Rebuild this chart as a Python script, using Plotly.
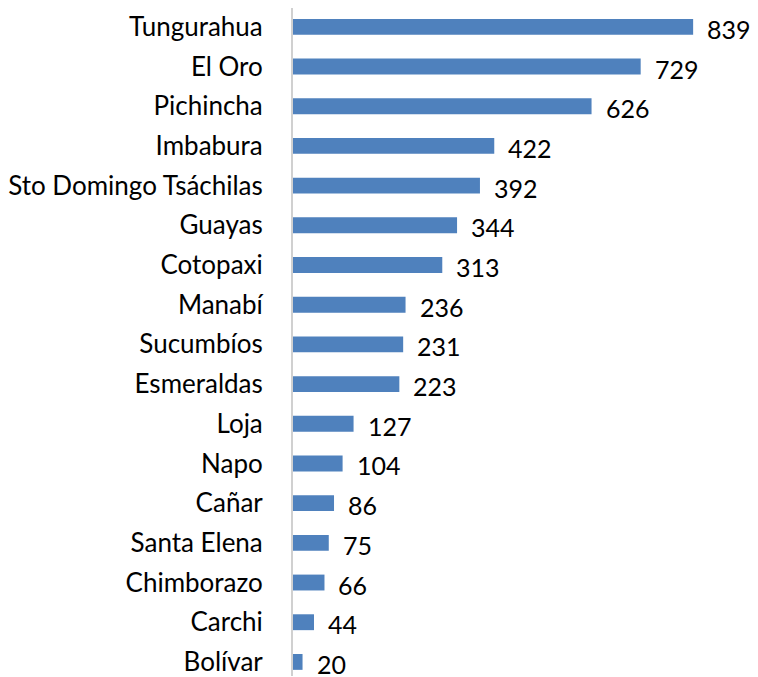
import plotly.graph_objects as go

provinces = ["Tungurahua", "El Oro", "Pichincha", "Imbabura", "Sto Domingo Tsáchilas",
             "Guayas", "Cotopaxi", "Manabí", "Sucumbíos", "Esmeraldas", "Loja", "Napo",
             "Cañar", "Santa Elena", "Chimborazo", "Carchi", "Bolívar"]
values = [839, 729, 626, 422, 392, 344, 313, 236, 231, 223, 127, 104, 86, 75, 66, 44, 20]

FONT = "Lato"
fig = go.Figure()
fig.add_trace(go.Bar(
    x=values, y=provinces, orientation="h",
    marker=dict(color="#4F81BD", line=dict(width=0)),
    width=0.4,
))
for v, p in zip(values, provinces):
    fig.add_annotation(x=v, y=p, text=str(v), showarrow=False,
                       xanchor="left", yanchor="middle", xshift=12, yshift=-2,
                       font=dict(family=FONT, size=25, color="#000000"))

fig.update_layout(
    width=750, height=669,
    margin=dict(l=282, r=0, t=0, b=0),
    paper_bgcolor="white", plot_bgcolor="white",
    showlegend=False,
    xaxis=dict(range=[0, 975], visible=False, fixedrange=True),
    yaxis=dict(type="category", range=[16.355, -0.475], showgrid=False,
               showline=True, linecolor="#D0D0D0", linewidth=2,
               ticks="", ticklabelstandoff=23, zeroline=False,
               tickfont=dict(family=FONT, size=26, color="#000000")),
)
fig.write_html("out.html")
